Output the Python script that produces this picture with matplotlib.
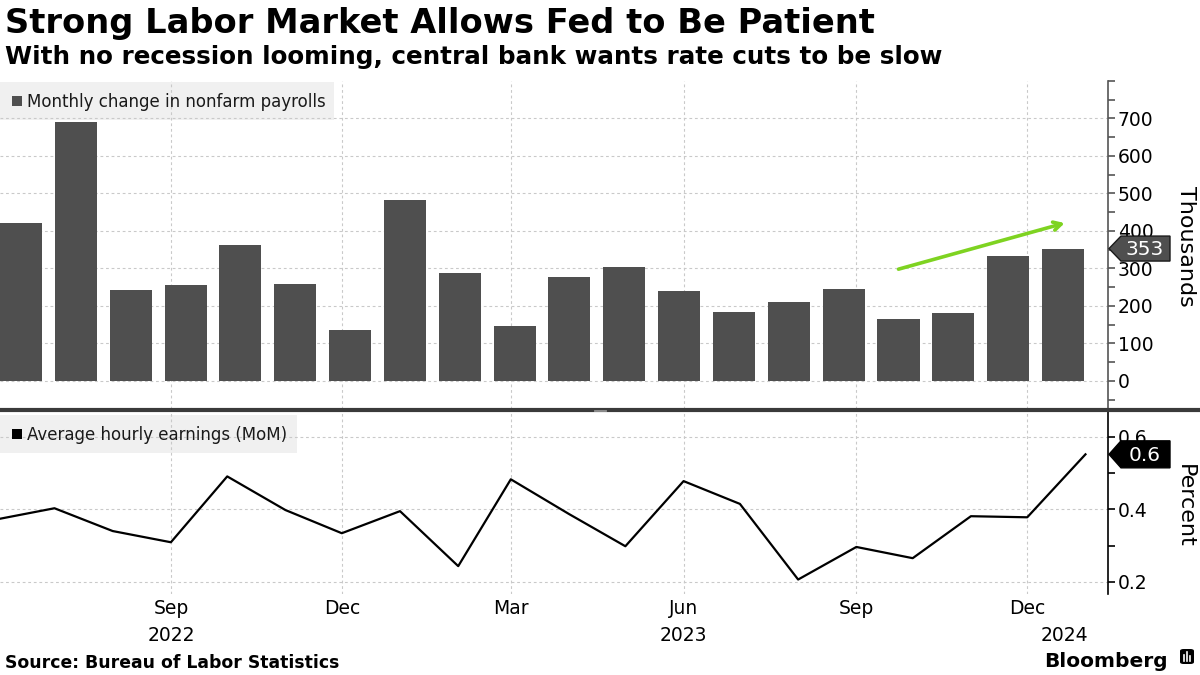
import matplotlib
matplotlib.use("Agg")
import matplotlib.pyplot as plt
import matplotlib.dates as mdates
import matplotlib.transforms as mtransforms
from matplotlib.patches import Rectangle, Polygon, FancyBboxPatch
from matplotlib.lines import Line2D
import numpy as np
import pandas as pd

# ---------------- data ----------------
months = pd.date_range("2022-06-01", "2024-01-01", freq="MS")
payrolls = [420, 690, 242, 256, 362, 258, 136, 482, 287, 146,
            276, 303, 239, 183, 210, 245, 165, 181, 333, 353]
earnings = [0.373, 0.403, 0.340, 0.309, 0.491, 0.398, 0.334, 0.395, 0.243, 0.483,
            0.387, 0.298, 0.478, 0.415, 0.206, 0.296, 0.265, 0.381, 0.378, 0.552]
tick_dates = ["2022-09-01", "2022-12-01", "2023-03-01", "2023-06-01", "2023-09-01", "2023-12-01"]
tick_labels = ["Sep", "Dec", "Mar", "Jun", "Sep", "Dec"]
year_labels = ["2022", "2023", "2024"]
year_dates = ["2022-09-01", "2023-06-01", "2023-12-21"]
payroll_ticks = [0, 100, 200, 300, 400, 500, 600, 700]
earn_ticks = [0.2, 0.4, 0.6]
arrow_start = (16.0, 298)
arrow_end = (19.03, 421)

title = "Strong Labor Market Allows Fed to Be Patient"
subtitle = "With no recession looming, central bank wants rate cuts to be slow"
legend1 = "Monthly change in nonfarm payrolls"
legend2 = "Average hourly earnings (MoM)"
source = "Source: Bureau of Labor Statistics"

# ---------------- layout ----------------
W, H = 1200, 675
plt.rcParams['font.family'] = ['DejaVu Sans']
fig = plt.figure(figsize=(12, 6.75), dpi=100)
fig.patch.set_facecolor('white')


def rect(x0, y0, x1, y1):
    return [x0 / W, 1 - y1 / H, (x1 - x0) / W, (y1 - y0) / H]


AX1 = (0, 81, 1108, 409)
AX2 = (0, 412, 1108, 594)
ax1 = fig.add_axes(rect(*AX1))
ax2 = fig.add_axes(rect(*AX2))


def to_axes(box, x, y):
    x0, y0, x1, y1 = box
    return (x - x0) / (x1 - x0), (y1 - y) / (y1 - y0)


def fx(x):
    return x / W


def fy(y):
    return 1 - y / H


grid_kw = dict(color='#c9c9c9', linestyle=(0, (2.5, 2.5)), linewidth=0.8)
BAR = '#4f4f4f'

# bottom axis date range
d0 = mdates.date2num(pd.Timestamp("2022-06-02"))
d1 = mdates.date2num(pd.Timestamp("2024-01-13"))
xl0, xl1 = -0.383, 19.82
tick_nums = [mdates.date2num(pd.Timestamp(d)) for d in tick_dates]
top_grid_pos = [xl0 + (t - d0) / (d1 - d0) * (xl1 - xl0) for t in tick_nums]

# ---------------- top panel ----------------
ax1.set_axisbelow(True)
ax1.bar(np.arange(len(payrolls)), payrolls, width=0.766, color=BAR, zorder=2)
ax1.set_xlim(xl0, xl1)
ax1.set_ylim(-75, 800)
ax1.set_xticks(top_grid_pos)
ax1.tick_params(axis='x', length=0, labelbottom=False)
ax1.yaxis.tick_right()
ax1.set_yticks(payroll_ticks)
ax1.set_yticks([v for v in range(-50, 801, 50) if v not in payroll_ticks], minor=True)
ax1.tick_params(axis='y', which='both', direction='out', length=5, width=1.2,
                color='#555555', labelsize=13.5, pad=2, labelcolor='black')
ax1.grid(True, which='major', **grid_kw)
for s in ['top', 'left', 'bottom']:
    ax1.spines[s].set_visible(False)
ax1.spines['right'].set_color('#555555')
ax1.spines['right'].set_linewidth(1.2)
ax1.patch.set_alpha(0)

ax1.annotate('', xy=arrow_end, xytext=arrow_start,
             arrowprops=dict(arrowstyle='->,head_length=0.55,head_width=0.3',
                             color='#7ed321', lw=2.6, shrinkA=0, shrinkB=0),
             zorder=5)

# legend box top
bx0, by0 = to_axes(AX1, 0, 120)
bx1, by1 = to_axes(AX1, 334, 82)
ax1.add_patch(Rectangle((bx0, by0), bx1 - bx0, by1 - by0, transform=ax1.transAxes,
                        facecolor='#f0f0f0', edgecolor='none', zorder=0.4, clip_on=False))
mx0, my0 = to_axes(AX1, 12, 106)
mx1, my1 = to_axes(AX1, 22, 96)
ax1.add_patch(Rectangle((mx0, my0), mx1 - mx0, my1 - my0, transform=ax1.transAxes,
                        facecolor=BAR, edgecolor='none', zorder=3, clip_on=False))
tx, ty = to_axes(AX1, 27, 101.5)
ax1.text(tx, ty, legend1, transform=ax1.transAxes, fontsize=12, va='center',
         ha='left', color='#1a1a1a', zorder=3)

# ---------------- bottom panel ----------------
ax2.set_axisbelow(True)
ax2.plot(months, earnings, color='black', lw=1.6, zorder=3)
ax2.set_xlim(d0, d1)
ax2.set_ylim(0.166, 0.669)
ax2.set_xticks(tick_nums)
ax2.set_xticklabels(tick_labels)
ax2.tick_params(axis='x', length=0, labelsize=13.5, pad=3.5)
ax2.yaxis.tick_right()
ax2.set_yticks(earn_ticks)
ax2.set_yticklabels([f"{v:.1f}" for v in earn_ticks])
ax2.set_yticks([0.3, 0.5], minor=True)
ax2.tick_params(axis='y', which='both', direction='out', length=5, width=1.2,
                color='black', labelsize=13.5, pad=2)
ax2.grid(True, which='major', **grid_kw)
for s in ['top', 'left', 'bottom']:
    ax2.spines[s].set_visible(False)
ax2.spines['right'].set_color('black')
ax2.spines['right'].set_linewidth(1.2)
ax2.patch.set_alpha(0)

blend2 = mtransforms.blended_transform_factory(ax2.transData, ax2.transAxes)
_, yy = to_axes(AX2, 0, 641)
for lab, d in zip(year_labels, year_dates):
    ax2.text(mdates.date2num(pd.Timestamp(d)), yy, lab, transform=blend2,
             fontsize=13.5, ha='center', va='baseline', clip_on=False)

bx0, by0 = to_axes(AX2, 0, 453)
bx1, by1 = to_axes(AX2, 297, 415)
ax2.add_patch(Rectangle((bx0, by0), bx1 - bx0, by1 - by0, transform=ax2.transAxes,
                        facecolor='#f0f0f0', edgecolor='none', zorder=0.4, clip_on=False))
mx0, my0 = to_axes(AX2, 12, 439)
mx1, my1 = to_axes(AX2, 22, 429)
ax2.add_patch(Rectangle((mx0, my0), mx1 - mx0, my1 - my0, transform=ax2.transAxes,
                        facecolor='black', edgecolor='none', zorder=3, clip_on=False))
tx, ty = to_axes(AX2, 27, 434.5)
ax2.text(tx, ty, legend2, transform=ax2.transAxes, fontsize=12, va='center',
         ha='left', color='#1a1a1a', zorder=3)

# ---------------- last value tags ----------------
IDT = mtransforms.IdentityTransform()


def tag(ax, value, label, face, edge, half_h):
    yd = ax.transData.transform((ax.get_xlim()[0], value))[1]
    x_tip, x_box, x_right = 1109, 1121, 1170
    pts = [(x_tip, yd), (x_box, yd + half_h), (x_right, yd + half_h),
           (x_right, yd - half_h), (x_box, yd - half_h)]
    fig.add_artist(Polygon(pts, closed=True, transform=IDT, facecolor=face,
                           edgecolor=edge, lw=1, zorder=10))
    fig.text(1145, yd - 1, label, transform=IDT, color='white', fontsize=14.5,
             ha='center', va='center', zorder=11)


tag(ax1, payrolls[-1], f"{payrolls[-1]:.0f}", '#4f4f4f', '#1a1a1a', 12.5)
tag(ax2, earnings[-1], f"{earnings[-1]:.1f}", 'black', 'black', 13.5)

# axis titles
fig.text(fx(1186), fy(246), "Thousands", rotation=270, ha='center', va='center', fontsize=16)
fig.text(fx(1185), fy(506), "Percent", rotation=270, ha='center', va='center', fontsize=16)

# separator between panels
fig.add_artist(Line2D([0, 1], [fy(410.5)] * 2, transform=fig.transFigure,
                      color='#3a3a3a', lw=3, zorder=8))
for yv in (409.6, 411.4):
    fig.add_artist(Line2D([fx(594), fx(606)], [fy(yv)] * 2, transform=fig.transFigure,
                          color='#9a9a9a', lw=0.6, zorder=9))

# titles
fig.text(fx(5), fy(33), title, fontsize=24.2, fontweight='bold', va='baseline', ha='left')
fig.text(fx(5), fy(64), subtitle, fontsize=17.7, fontweight='bold', va='baseline', ha='left')

# footer
fig.text(fx(5), fy(668), source, fontsize=12.4, fontweight='bold', va='baseline', ha='left')
fig.text(fx(1168), fy(667), "Bloomberg", fontsize=14.5, fontweight='bold',
         va='baseline', ha='right')
fig.add_artist(FancyBboxPatch((fx(1180), fy(664)), fx(14), 15 / H,
                              boxstyle='round,pad=0,rounding_size=0.003',
                              transform=fig.transFigure, facecolor='black',
                              edgecolor='none', zorder=10))
for bxp, bh in zip((1183.5, 1186.5, 1189.5), (6, 9, 5)):
    fig.add_artist(Line2D([fx(bxp)] * 2, [fy(661), fy(661 - bh)], transform=fig.transFigure,
                          color='white', lw=1.2, zorder=11))

fig.savefig("out.png", dpi=100, facecolor='white')
